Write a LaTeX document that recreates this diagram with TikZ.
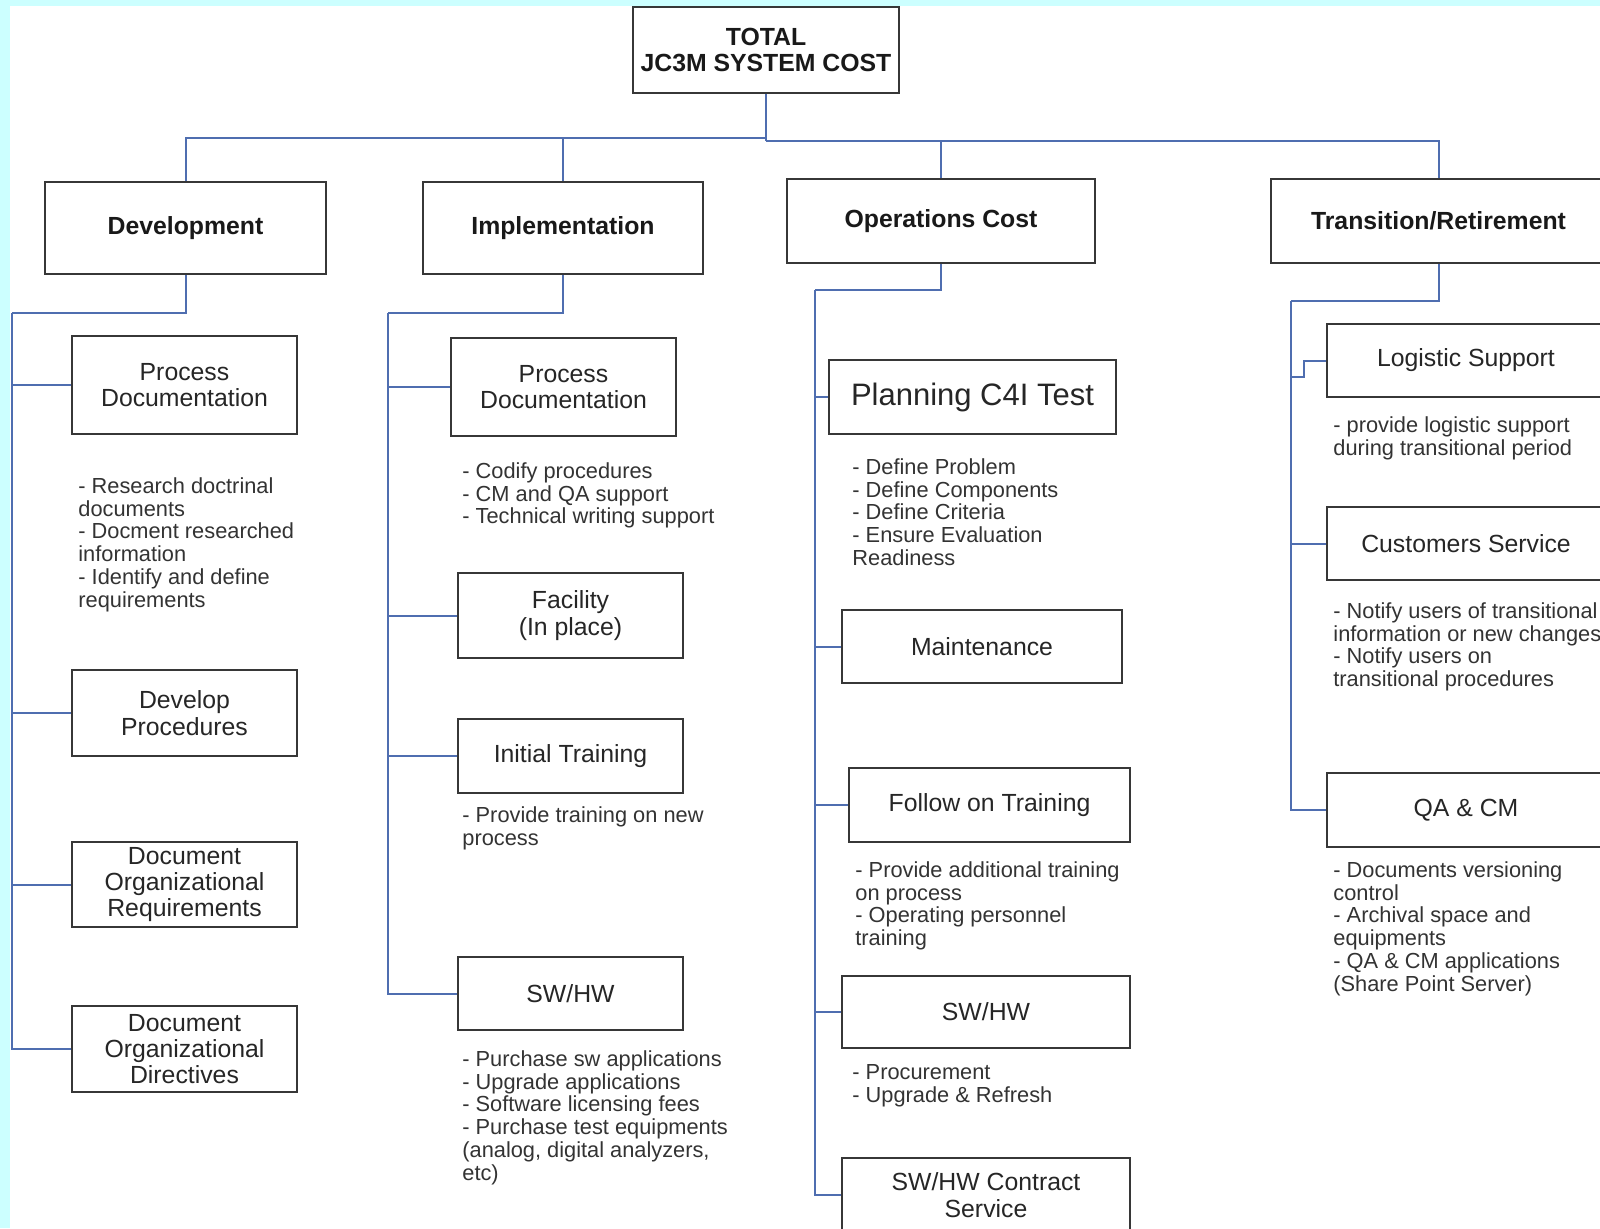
\documentclass[tikz,border=0pt]{standalone}
\usepackage{xcolor}
\usepackage{fontspec}
\setmainfont{Liberation Sans}
\usepackage{tikz}
\usetikzlibrary{positioning}
\definecolor{linkblue}{RGB}{79,110,176}
\definecolor{bgcyan}{RGB}{204,255,255}
\definecolor{boxline}{RGB}{55,55,55}
\tikzset{
  sz/.style 2 args={minimum width=#1*0.5pt,minimum height=#2*0.5pt},
  head/.style={draw=boxline,line width=1pt,fill=white,inner sep=0pt,align=center,text=black!90,font=\bfseries\fontsize{12.4}{13.3}\selectfont},
  box/.style={draw=boxline,line width=1pt,fill=white,inner sep=0pt,align=center,text=black!85,font=\fontsize{12.4}{13.2}\selectfont},
  note/.style={anchor=north west,inner sep=0pt,align=left,text=black!80,font=\fontsize{10.9}{11.4}\selectfont},
  link/.style={draw=linkblue,line width=1pt}
}

\begin{document}
\begin{tikzpicture}[x=0.5pt,y=-0.5pt]
    \useasboundingbox (0,0) rectangle (1600,1228);
    \fill [bgcyan] (0,0) rectangle (1600,1228);
    \begin{scope}
    \clip (10,6) rectangle (1600,1228);
    \fill [white] (10,6) rectangle (1600,1228);

    \node [head,sz={266}{86}] (Tot) at (766,50) {TOTAL\\JC3M SYSTEM COST};
    \node [head,sz={281}{92}] (Dev) at (185.5,228) {Development};
    \node [head,sz={280}{92}] (Imp) at (563,228) {Implementation};
    \node [head,sz={308}{84}] (Ops) at (941,221) {Operations Cost};
    \node [head,sz={335}{84}] (Tra) at (1438.5,221) {Transition/Retirement};

    \node [box,sz={225}{98}] (D1) at (184.5,385) {Process\\Documentation};
    \node [box,sz={225}{86}] (D2) at (184.5,713) {Develop\\Procedures};
    \node [box,sz={225}{85}] (D3) at (184.5,884.5) {Document\\Organizational\\Requirements};
    \node [box,sz={225}{86}] (D4) at (184.5,1049) {Document\\Organizational\\Directives};

    \node [box,sz={225}{98}] (I1) at (563.5,387) {Process\\Documentation};
    \node [box,sz={225}{85}] (I2) at (570.5,615.5) {Facility\\(In place)};
    \node [box,sz={225}{74}] (I3) at (570.5,756) {Initial Training};
    \node [box,sz={225}{73}] (I4) at (570.5,993.5) {SW/HW};

    \node [box,sz={287}{74},font=\fontsize{15.5}{17}\selectfont] (O1) at (972.5,397) {Planning C4I Test};
    \node [box,sz={280}{73}] (O2) at (982,646.5) {Maintenance};
    \node [box,sz={281}{74}] (O3) at (989.5,805) {Follow on Training};
    \node [box,sz={288}{72}] (O4) at (986,1012) {SW/HW};
    \node [box,sz={288}{74}] (O5) at (986,1195) {SW/HW Contract\\Service};

    \node [box,sz={278}{73}] (T1) at (1466,360.5) {Logistic Support};
    \node [box,sz={278}{73}] (T2) at (1466,543.5) {Customers Service};
    \node [box,sz={278}{74}] (T3) at (1466,810) {QA \& CM};

    \node [note] (D1n) at (78,477) {- Research doctrinal\\documents\\- Docment researched\\information\\- Identify and define\\requirements};
    \node [note] (I1n) at (462,462) {- Codify procedures\\- CM and QA support\\- Technical writing support};
    \node [note] (I3n) at (462,806) {- Provide training on new\\process};
    \node [note] (I4n) at (462,1050) {- Purchase sw applications\\- Upgrade applications\\- Software licensing fees\\- Purchase test equipments\\(analog, digital analyzers,\\etc)};
    \node [note] (O1n) at (852,458) {- Define Problem\\- Define Components\\- Define Criteria\\- Ensure Evaluation\\Readiness};
    \node [note] (O3n) at (855,861) {- Provide additional training\\on process\\- Operating personnel\\training};
    \node [note] (O4n) at (852,1064) {- Procurement\\- Upgrade \& Refresh};
    \node [note] (T1n) at (1333,416) {- provide logistic support\\during transitional period};
    \node [note] (T2n) at (1333,602) {- Notify users of transitional\\information or new changes\\- Notify users on\\transitional procedures};
    \node [note] (T3n) at (1333,861) {- Documents versioning\\control\\- Archival space and\\equipments\\- QA \& CM applications\\(Share Point Server)};

    \coordinate (busL) at (766,138);
    \coordinate (busR) at (766,141);
    \draw [link] (Tot.south) -- (busR);
    \draw [link] (busL) -| (Dev.north);
    \draw [link] (busL) -| (Imp.north);
    \draw [link] (busR) -| (Ops.north);
    \draw [link] (busR) -| (Tra.north);

    \coordinate (Ds) at (12,313);
    \draw [link] (Dev.south) |- (Ds);
    \draw [link] (Ds) |- (D1.west);
    \draw [link] (Ds) |- (D2.west);
    \draw [link] (Ds) |- (D3.west);
    \draw [link] (Ds) |- (D4.west);

    \coordinate (Is) at (388,313);
    \draw [link] (Imp.south) |- (Is);
    \draw [link] (Is) |- (I1.west);
    \draw [link] (Is) |- (I2.west);
    \draw [link] (Is) |- (I3.west);
    \draw [link] (Is) |- (I4.west);

    \coordinate (Os) at (815,290);
    \draw [link] (Ops.south) |- (Os);
    \draw [link] (Os) |- (O1.west);
    \draw [link] (Os) |- (O2.west);
    \draw [link] (Os) |- (O3.west);
    \draw [link] (Os) |- (O4.west);
    \draw [link] (Os) |- (O5.west);

    \coordinate (Ts) at (1291,301);
    \coordinate (Tj) at (1304,377);
    \draw [link] (Tra.south) |- (Ts);
    \draw [link] (Ts) |- (Tj) |- (T1.west);
    \draw [link] (Ts) |- (T2.west);
    \draw [link] (Ts) |- (T3.west);
    \end{scope}
\end{tikzpicture}
\end{document}
